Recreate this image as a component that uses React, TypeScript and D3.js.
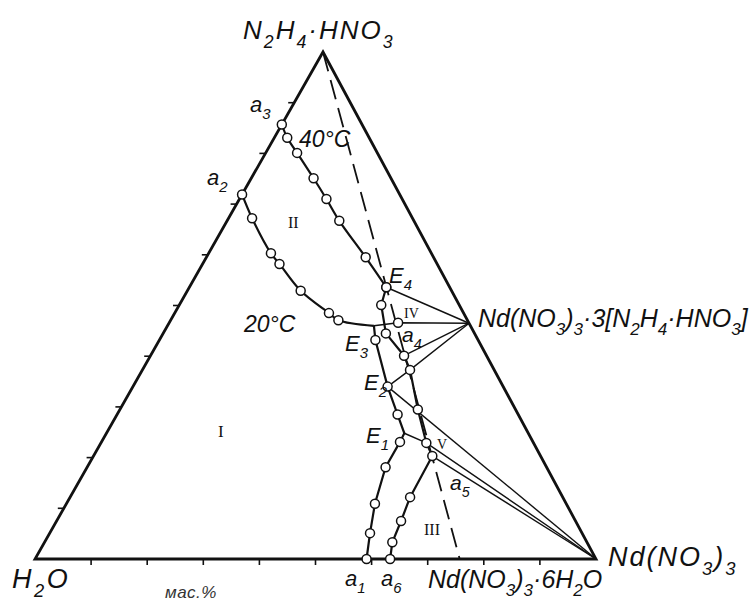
import React from "react";
import * as d3 from "d3";

// Compositions in mass %: [Nd(NO3)3, N2H4·HNO3]; water is the rest.
const vertexH2O = [0, 0];
const vertexNd = [100, 0];
const vertexHz = [0, 100];
const compound = [53.5, 46.5]; // Nd(NO3)3·3[N2H4·HNO3]
const hexahydrate = [75.7, 0]; // Nd(NO3)3·6H2O

// 40 °C isotherm (a3 ... E4 ... a6)
const iso40Upper = [
  [0, 85.7], [2.3, 83.1], [5.6, 80.1], [11.1, 75.1], [15.5, 71.0],
  [20.0, 66.7], [28.4, 59.5], [35.1, 53.6],
];
const iso40Lower = [
  [35.1, 53.6], [36.0, 50.1], [39.7, 44.5], [45.2, 40.1], [47.7, 37.3],
  [53.1, 29.5], [58.0, 22.9], [60.4, 20.3], [60.6, 12.2], [61.4, 7.5],
  [62.0, 3.3], [63.3, 0],
];
// 20 °C isotherm (a2 ... E3, E2, E1 ... a1)
const iso20Upper = [
  [0, 71.9], [4.2, 67.2], [11.1, 60.3], [13.7, 58.2], [20.2, 52.9],
  [27.5, 48.5], [29.9, 47.1],
];
const junction20 = [36.8, 46.0];
const iso20Mid = [[38.5, 43.2], [45.4, 34.0], [50.0, 28.5]];
const kinkE1 = [53.1, 24.8];
const iso20Low = [[53.2, 23.1], [53.2, 18.1], [55.0, 10.9], [57.1, 5.1], [59.1, 0]];
const tieCircle = [40.8, 46.6];

const tickValues = [10, 20, 30, 40, 50, 60, 70, 80, 90];

const FONT = "'Liberation Sans', Arial, sans-serif";
const SERIF = "'Liberation Serif', 'Times New Roman', serif";

const A = { x: 35, y: 559 };
const sx = d3.scaleLinear().domain([0, 100]).range([0, 561]);
const sy = d3.scaleLinear().domain([0, 100]).range([0, -507]);
const skew = d3.scaleLinear().domain([0, 100]).range([0, 288]);
const P = (c: number[]): [number, number] => [A.x + sx(c[0]) + skew(c[1]), A.y + sy(c[1])];

const lineLin = d3.line<number[]>().x((d) => P(d)[0]).y((d) => P(d)[1]);
const lineSmooth = d3
  .line<number[]>()
  .x((d) => P(d)[0])
  .y((d) => P(d)[1])
  .curve(d3.curveCatmullRom.alpha(0.5));

function Chem({ x, y, text, fs, anchor = "start", italic = true, family = FONT, ls = 0 }: any) {
  const tokens: { t: string; sub: boolean }[] = [];
  for (let i = 0; i < text.length; i++) {
    if (text[i] === "_") {
      tokens.push({ t: text[i + 1], sub: true });
      i++;
    } else {
      const last = tokens[tokens.length - 1];
      if (last && !last.sub) last.t += text[i];
      else tokens.push({ t: text[i], sub: false });
    }
  }
  const sh = fs * 0.33;
  return (
    <text x={x} y={y} fontSize={fs} fontStyle={italic ? "italic" : "normal"} fontFamily={family} textAnchor={anchor} fill="#111" letterSpacing={ls}>
      {tokens.map((tk, i) => {
        const prevSub = i > 0 && tokens[i - 1].sub;
        if (tk.sub)
          return (
            <tspan key={i} dy={prevSub ? 0 : sh} fontSize={fs * 0.68}>
              {tk.t}
            </tspan>
          );
        return (
          <tspan key={i} dy={prevSub ? -sh : 0}>
            {tk.t}
          </tspan>
        );
      })}
    </text>
  );
}

function Circles({ pts }: { pts: number[][] }) {
  return (
    <g>
      {pts.map((d, i) => {
        const [x, y] = P(d);
        return <circle key={i} cx={x} cy={y} r={4.5} fill="#fff" stroke="#111" strokeWidth={1.5} />;
      })}
    </g>
  );
}

export default function App() {
  const pH2O = P(vertexH2O);
  const pNd = P(vertexNd);
  const pHz = P(vertexHz);
  const tri = `M${pH2O}L${pNd}L${pHz}Z`;

  const tieLines: number[][][] = [
    [compound, iso40Upper[7]],
    [compound, tieCircle, junction20],
    [compound, iso40Lower[3]],
    [compound, iso40Lower[4], iso20Mid[1]],
    [vertexNd, iso20Mid[1]],
    [vertexNd, iso40Lower[6], kinkE1],
    [vertexNd, iso40Lower[7]],
  ];

  const iso20Line = [junction20, ...iso20Mid, kinkE1, ...iso20Low];

  return (
    <svg width={752} height={608} style={{ position: "absolute", left: 0, top: 0, background: "#fff" }}>
      {/* ticks */}
      {tickValues.map((t) => {
        const [x, y] = P([t, 0]);
        return <line key={"b" + t} x1={x} y1={y} x2={x} y2={y + 6} stroke="#111" strokeWidth={1.6} />;
      })}
      {tickValues.map((t) => {
        const [x, y] = P([0, t]);
        return <line key={"l" + t} x1={x} y1={y} x2={x - 6} y2={y} stroke="#111" strokeWidth={1.6} />;
      })}

      {/* dashed join */}
      <path d={lineLin([vertexHz, hexahydrate]) || ""} stroke="#111" strokeWidth={1.8} strokeDasharray="20,9" fill="none" />

      {/* tie lines */}
      {tieLines.map((l, i) => (
        <path key={i} d={lineLin(l) || ""} stroke="#111" strokeWidth={1.4} fill="none" />
      ))}

      {/* isotherms */}
      <path d={lineSmooth(iso40Upper) || ""} stroke="#111" strokeWidth={2.2} fill="none" />
      <path d={lineLin(iso40Lower) || ""} stroke="#111" strokeWidth={2.2} fill="none" />
      <path d={lineSmooth([...iso20Upper, junction20]) || ""} stroke="#111" strokeWidth={2.2} fill="none" />
      <path d={lineLin(iso20Line) || ""} stroke="#111" strokeWidth={2.2} fill="none" />

      {/* triangle */}
      <path d={tri} stroke="#111" strokeWidth={2.8} fill="none" strokeLinejoin="miter" />

      <Circles pts={iso40Upper} />
      <Circles pts={iso40Lower} />
      <Circles pts={iso20Upper} />
      <Circles pts={iso20Mid} />
      <Circles pts={iso20Low} />
      <Circles pts={[tieCircle]} />

      {/* labels */}
      <Chem x={243} y={39} fs={26} ls={2} text="N_2H_4·HNO_3" />
      <Chem x={12} y={588} fs={27} ls={2.5} text="H_2O" />
      <text x={165} y={598} fontSize={17} fontStyle="italic" fontFamily={FONT} fill="#333" letterSpacing={0.5}>мас.%</text>
      <Chem x={608} y={566} fs={27} ls={2} text="Nd(NO_3)_3" />
      <Chem x={428} y={588} fs={25} text="Nd(NO_3)_3·6H_2O" />
      <Chem x={478} y={327} fs={25} text="Nd(NO_3)_3·3[N_2H_4·HNO_3]" />

      <Chem x={299} y={147} fs={23} text="40°C" />
      <Chem x={244} y={332} fs={23} text="20°C" />

      <Chem x={250} y={112} fs={22} text="a_3" />
      <Chem x={207} y={185} fs={22} text="a_2" />
      <Chem x={389} y={283} fs={22} text="E_4" />
      <Chem x={345} y={351} fs={22} text="E_3" />
      <Chem x={364} y={390} fs={22} text="E_2" />
      <Chem x={366} y={443} fs={22} text="E_1" />
      <Chem x={402} y={342} fs={21} text="a_4" />
      <Chem x={450} y={490} fs={21} text="a_5" />
      <Chem x={345} y={586} fs={22} text="a_1" />
      <Chem x={381} y={586} fs={22} text="a_6" />

      <text x={218} y={437} fontSize={17} fontFamily={SERIF} fill="#111">I</text>
      <text x={288} y={228} fontSize={16} fontFamily={SERIF} fill="#111">II</text>
      <text x={424} y={535} fontSize={16} fontFamily={SERIF} fill="#111">III</text>
      <text x={404} y={318} fontSize={14} fontFamily={SERIF} fill="#111">IV</text>
      <text x={437} y={449} fontSize={14} fontFamily={SERIF} fill="#111">V</text>
    </svg>
  );
}
